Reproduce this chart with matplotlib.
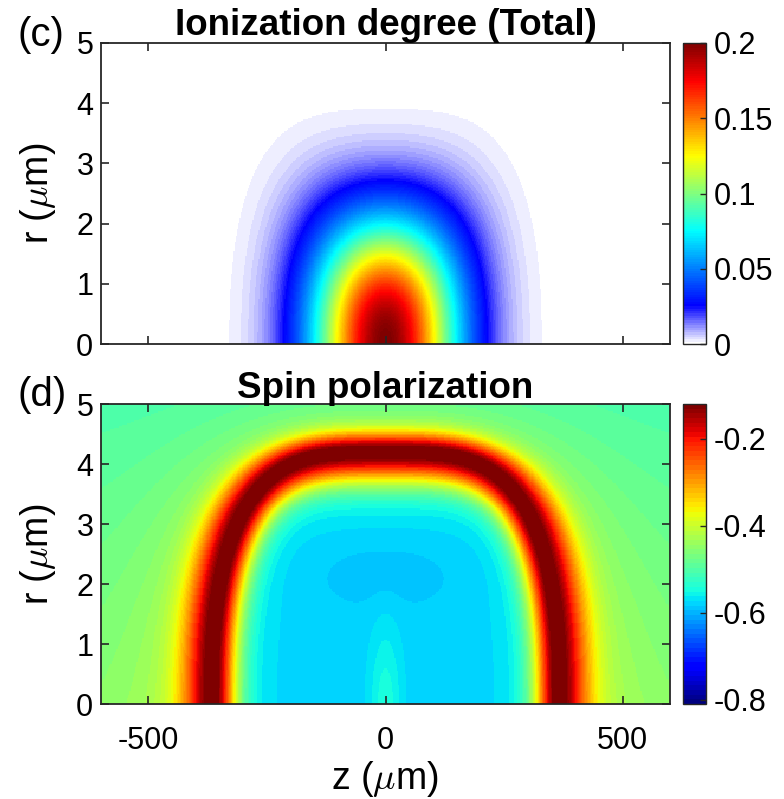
import numpy as np
import matplotlib
matplotlib.use('Agg')
import matplotlib.pyplot as plt
from matplotlib.colors import LinearSegmentedColormap

# axes and colour scales
z_lim = [-600, 600]
r_lim = [0, 5]
z_ticks = [-500, 0, 500]
z_ticklabels = ['-500', '0', '500']
r_ticks = [0, 1, 2, 3, 4, 5]
ion_clim = [0, 0.2]
ion_ticks = [0, 0.05, 0.1, 0.15, 0.2]
ion_ticklabels = ['0', '0.05', '0.1', '0.15', '0.2']
spin_clim = [-0.81, -0.12]
spin_ticks = [-0.8, -0.6, -0.4, -0.2]
spin_ticklabels = ['-0.8', '-0.6', '-0.4', '-0.2']

# ionization degree
ion_peak = 0.2
ion_len_z = 150.0          # on-axis 1/e length (um)
ion_waist = [2.0, 400.0]   # waist at z=0 (um), growth length (um)
ion_power = 2.35

# spin polarization
ring_shape = [365.0, 4.22, 3.5, 2.5]  # half length, radius, z power, r power
ring_peak = -0.09
outer_scale = [85.0, 0.42]            # um in z / um in r per unit
inner_scale = [48.0, 0.5]
outer_base = [-0.505, -0.465]         # at r=5, at r=0
inner_base = -0.58
outer_tail = [0.7, 0.75, 1.3]         # gauss weight, gauss width, exp length
inner_tail = [0.85, 1.05, 1.2]
inner_lobes = [[0.035, 0.0, 35.0, 0.0, 1.3],
               [-0.012, 0.0, 150.0, 2.2, 0.6]]

plt.rcParams['font.family'] = ['Liberation Sans', 'DejaVu Sans']
plt.rcParams['mathtext.fontset'] = 'cm'
plt.rcParams['axes.unicode_minus'] = False

z = np.linspace(z_lim[0], z_lim[1], 481)
r = np.linspace(r_lim[0], r_lim[1], 201)
Z, R = np.meshgrid(z, r)

# panel (c)
w = ion_waist[0] * np.sqrt(1 + (Z / ion_waist[1]) ** 2)
ion = ion_peak * np.exp(-(Z / ion_len_z) ** 2) * np.exp(-(R / w) ** ion_power)

# panel (d): ring curve sampled along z and along r
A, B, m, n = ring_shape
zs = np.linspace(-A, A, 801)
rs = np.linspace(0, B, 401)
zc = np.concatenate([zs, A * (1 - (rs / B) ** n) ** (1 / m), -A * (1 - (rs / B) ** n) ** (1 / m)])
rc = np.concatenate([B * (1 - (np.abs(zs) / A) ** m) ** (1 / n), rs, rs])
d_out = np.full(Z.shape, np.inf)
d_in = np.full(Z.shape, np.inf)
for zi, ri in zip(zc, rc):
    d_out = np.minimum(d_out, np.hypot((Z - zi) / outer_scale[0], (R - ri) / outer_scale[1]))
    d_in = np.minimum(d_in, np.hypot((Z - zi) / inner_scale[0], (R - ri) / inner_scale[1]))
inside = (np.abs(Z) / A) ** m + (R / B) ** n < 1

f_out = outer_tail[0] * np.exp(-(d_out / outer_tail[1]) ** 2) + (1 - outer_tail[0]) * np.exp(-d_out / outer_tail[2])
f_in = inner_tail[0] * np.exp(-(d_in / inner_tail[1]) ** 2) + (1 - inner_tail[0]) * np.exp(-d_in / inner_tail[2])
base_out = outer_base[1] + (outer_base[0] - outer_base[1]) * R / r_lim[1]
base_in = np.full(Z.shape, inner_base)
for amp, z0, zw, r0, rw in inner_lobes:
    base_in += amp * np.exp(-((Z - z0) / zw) ** 2 - ((R - r0) / rw) ** 2)
spin = np.where(inside, base_in + (ring_peak - base_in) * f_in,
                base_out + (ring_peak - base_out) * f_out)

ion_cmap = LinearSegmentedColormap.from_list(
    'ionjet', [(0, (1, 1, 1)), (0.125, (0, 0, 1)), (0.375, (0, 1, 1)),
               (0.625, (1, 1, 0)), (0.875, (1, 0, 0)), (1, (0.5, 0, 0))], N=128)
spin_cmap = plt.get_cmap('jet', 64)

fig = plt.figure(figsize=(7.84, 7.99), dpi=100)
W, H = 784, 799
ax1 = fig.add_axes([101 / W, 1 - 344 / H, 569 / W, 301 / H])
cax1 = fig.add_axes([683 / W, 1 - 344 / H, 23 / W, 301 / H])
ax2 = fig.add_axes([101 / W, 1 - 704 / H, 569 / W, 300 / H])
cax2 = fig.add_axes([683 / W, 1 - 704 / H, 23 / W, 300 / H])

ext = [z_lim[0], z_lim[1], r_lim[0], r_lim[1]]
im1 = ax1.imshow(ion, extent=ext, origin='lower', aspect='auto', cmap=ion_cmap,
                 vmin=ion_clim[0], vmax=ion_clim[1], interpolation='nearest')
im2 = ax2.imshow(spin, extent=ext, origin='lower', aspect='auto', cmap=spin_cmap,
                 vmin=spin_clim[0], vmax=spin_clim[1], interpolation='nearest')

dark = '#262626'
for ax in (ax1, ax2):
    ax.set_xlim(z_lim)
    ax.set_ylim(r_lim)
    ax.set_xticks(z_ticks)
    ax.set_yticks(r_ticks)
    ax.tick_params(direction='in', length=6, width=1.2, top=True, right=True,
                   labelsize=22, color=dark, labelcolor='black')
    ax.tick_params(axis='y', pad=5.5)
    ax.tick_params(axis='x', pad=16)
    for s in ax.spines.values():
        s.set_linewidth(1.3)
        s.set_color(dark)
ax1.set_xticklabels([])
ax2.set_xticklabels(z_ticklabels)

ax1.set_title('Ionization degree (Total)', fontsize=26.5, fontweight='bold', pad=4)
ax2.set_title('Spin polarization', fontsize=26.5, fontweight='bold', pad=4)

for cax, im, ticks, labels in ((cax1, im1, ion_ticks, ion_ticklabels),
                               (cax2, im2, spin_ticks, spin_ticklabels)):
    cb = fig.colorbar(im, cax=cax, ticks=ticks)
    cb.set_ticklabels(labels)
    cb.ax.tick_params(labelsize=22, direction='in', length=4, width=1, color=dark, pad=5.5)
    cb.outline.set_edgecolor(dark)
    cb.outline.set_linewidth(1)

fig.text(38 / W, 1 - 193 / H, r'r ($\mu$m)', rotation=90, ha='center', va='center', fontsize=27)
fig.text(38 / W, 1 - 554 / H, r'r ($\mu$m)', rotation=90, ha='center', va='center', fontsize=27)
fig.text(385 / W, 1 - 779 / H, r'z ($\mu$m)', ha='center', va='center', fontsize=27)
fig.text(18 / W, 1 - 35 / H, '(c)', ha='left', va='center', fontsize=29)
fig.text(18 / W, 1 - 395 / H, '(d)', ha='left', va='center', fontsize=29)

fig.savefig('out.png', dpi=100)
